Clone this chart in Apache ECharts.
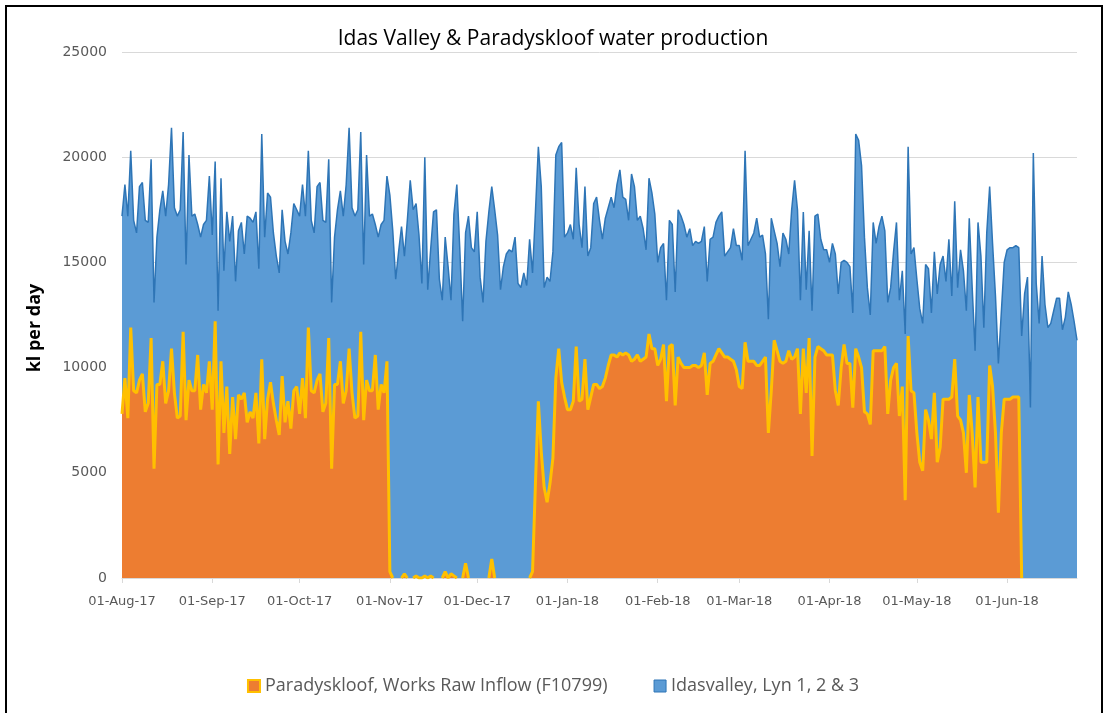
<!DOCTYPE html>
<html>
<head>
<meta charset="utf-8">
<title>Idas Valley & Paradyskloof water production</title>
<script src="https://cdn.jsdelivr.net/npm/echarts@6/dist/echarts.min.js"></script>
<style>
	html, body { margin: 0; padding: 0; background: #fff; }
	#chart { width: 1106px; height: 713px; }
</style>
</head>
<body>
<div id="chart"></div>
<script>
var chartTitle = 'Idas Valley & Paradyskloof water production';
var yAxisName = 'kl per day';
var seriesNames = ['Paradyskloof, Works Raw Inflow (F10799)', 'Idasvalley, Lyn 1, 2 & 3'];
var yTicks = [0, 5000, 10000, 15000, 20000, 25000];
var firstDay = [2017, 7, 1]; // 01-Aug-17, one value per day
var monthNames = ['Jan', 'Feb', 'Mar', 'Apr', 'May', 'Jun', 'Jul', 'Aug', 'Sep', 'Oct', 'Nov', 'Dec'];

// kl per day, daily, Aug 2017 - Jun 2018 (one line per month)
var paradyskloof = [
	7800, 9500, 7600, 11900, 8900, 8800, 9400, 9700, 7900, 8300, 11400, 5200, 9200, 9200, 10300, 8300, 8900, 10900, 8800, 7600, 7700, 11700, 7500, 9400, 8900, 8900, 10600, 8000, 9200, 8800, 10300,
	8000, 12200, 5400, 10300, 6900, 9100, 5900, 8600, 6600, 8700, 8500, 8800, 7400, 7900, 7600, 8800, 6400, 10400, 6600, 8500, 9300, 8300, 7500, 6800, 9600, 7400, 8400, 7100, 8900, 9100,
	7800, 9500, 7600, 11900, 8900, 8800, 9400, 9700, 7900, 8300, 11400, 5200, 9200, 9200, 10300, 8300, 8900, 10900, 8800, 7600, 7700, 11700, 7500, 9400, 8900, 8900, 10600, 8000, 9200, 8800, 10300,
	300, 0, 0, 0, 0, 200, 0, 0, 0, 100, 0, 0, 100, 0, 100, 0, 0, 0, 0, 300, 0, 200, 100, 0, 0, 0, 700, 0, 0, 0,
	0, 0, 0, 0, 0, 900, 0, 0, 0, 0, 0, 0, 0, 0, 0, 0, 0, 0, 0, 300, 4500, 8400, 6000, 4300, 3600, 4500, 5700, 9500, 10900, 9300, 8600,
	8000, 8000, 8400, 11000, 8400, 8500, 10400, 8000, 8600, 9200, 9200, 9000, 9100, 9500, 10100, 10600, 10600, 10500, 10700, 10600, 10700, 10600, 10300, 10400, 10600, 10300, 10400, 10500, 11600, 10900, 10900,
	10100, 10400, 11100, 8400, 11000, 11100, 8200, 10500, 10200, 10000, 10000, 10000, 10100, 10100, 10000, 10100, 10700, 8700, 10200, 10300, 10600, 10900, 10700, 10500, 10500, 10400, 10300, 9900,
	9100, 9000, 11200, 10300, 10300, 10300, 10100, 10100, 10300, 10500, 6900, 8900, 11300, 10800, 10300, 10200, 10300, 10800, 10400, 10500, 10900, 7800, 10900, 8800, 11400, 5800, 10500, 11000, 10900, 10800, 10600,
	10600, 10600, 8900, 8200, 10000, 11100, 10200, 10200, 8100, 10900, 10500, 10000, 7900, 7800, 7300, 10800, 10800, 10800, 10800, 11000, 7800, 9400, 10000, 10200, 7700, 9100, 3700, 11500, 8900, 8800,
	6900, 5500, 5100, 8000, 7500, 6600, 8800, 5500, 6200, 8500, 8500, 8500, 8600, 10400, 7700, 7500, 6900, 5000, 8700, 6900, 4300, 8600, 5500, 5500, 5500, 10100, 9100, 6900, 3100, 6900, 8500,
	8500, 8500, 8600, 8600, 8600, 0, 0, 0, 0, 0, 0, 0, 0, 0, 0, 0, 0, 0, 0, 0, 0, 0, 0, 0, 0
];

var idasvalley = [
	9400, 9200, 9600, 8400, 8100, 7600, 9200, 9100, 9100, 8600, 8500, 7900, 7000, 8300, 8100, 8900, 9800, 10500, 8800, 9600, 9800, 9500, 7400, 10700, 8300, 8400, 6200, 8200, 7600, 8200, 8800,
	8300, 7600, 7300, 8700, 7700, 8300, 10100, 8600, 7500, 7800, 8400, 6600, 9800, 9200, 9300, 8600, 8300, 10700, 9600, 9800, 8800, 8100, 7800, 7700, 7900, 8600, 7000, 9300, 8900, 8400,
	9400, 9200, 9600, 8400, 8100, 7600, 9200, 9100, 9100, 8600, 8500, 7900, 7000, 8300, 8100, 8900, 9800, 10500, 8800, 9600, 9800, 9500, 7400, 10700, 8300, 8400, 6200, 8200, 7600, 8200, 8800,
	17900, 16500, 14200, 15500, 16700, 15100, 17000, 18900, 17500, 17700, 16300, 14000, 19900, 13700, 15500, 17400, 17500, 14200, 13200, 15900, 14800, 13000, 17200, 18700, 15700, 12200, 15700, 17200, 15700, 15500,
	17400, 14300, 13100, 16000, 17400, 17700, 17500, 16300, 13700, 14800, 15400, 15600, 15500, 16200, 14000, 13800, 14500, 13900, 16100, 14200, 12900, 12100, 12600, 9500, 10700, 9600, 9800, 10600, 9600, 11400, 7600,
	8400, 8800, 7700, 8500, 8400, 7200, 8200, 7300, 7100, 8600, 8900, 8000, 7000, 7600, 7500, 7500, 7000, 8200, 8700, 7500, 7300, 6400, 8900, 8200, 6400, 6900, 6200, 5100, 7400, 7400, 6400,
	4900, 5300, 4800, 4800, 6000, 5700, 5400, 7000, 7000, 6800, 6200, 6600, 5700, 5900, 5900, 5900, 6000, 5400, 5900, 5900, 6300, 6300, 6700, 4800, 5000, 5300, 6300, 5900,
	6700, 6100, 9100, 5500, 5800, 6100, 7000, 6100, 6000, 4900, 5400, 8200, 5200, 5100, 4500, 6200, 5800, 4600, 7100, 8400, 6600, 5400, 6500, 4900, 5100, 6900, 6700, 6300, 5200, 4800, 5000,
	4400, 5300, 6500, 5300, 5000, 4000, 4800, 4600, 4500, 10200, 10300, 9600, 8300, 6000, 5200, 6100, 5100, 5900, 6400, 5500, 5300, 4400, 5500, 6700, 5500, 5500, 7900, 9000, 6500, 6900,
	7300, 7300, 7000, 6900, 7200, 6000, 6700, 8000, 8700, 6800, 5600, 7600, 4800, 7500, 6100, 8100, 7700, 7700, 8400, 6900, 6500, 8300, 9800, 6400, 10900, 8500, 6800, 6500, 7100, 5700, 6500,
	7100, 7200, 7100, 7200, 7100, 11500, 13500, 14300, 8100, 20200, 14000, 12100, 15300, 13000, 11900, 12100, 12700, 13300, 13300, 11800, 12400, 13600, 13000, 12200, 11300
];

// dd-Mon-yy labels, one per value
var dates = [];
for (var i = 0; i < paradyskloof.length; i++) {
	var d = new Date(Date.UTC(firstDay[0], firstDay[1], firstDay[2] + i));
	var dd = ('0' + d.getUTCDate()).slice(-2);
	var yy = String(d.getUTCFullYear()).slice(-2);
	dates.push(dd + '-' + monthNames[d.getUTCMonth()] + '-' + yy);
}

// yellow outline of the Paradyskloof area: no line along the axis where the works were off
var paradyskloofEdge = paradyskloof.map(function(v, i) {
	var prev = i > 0 ? paradyskloof[i - 1] : 0;
	var next = i < paradyskloof.length - 1 ? paradyskloof[i + 1] : 0;
	return (v === 0 && prev === 0 && next === 0) ? null : v;
});

function isMonthStart(index, value) {
	return value.slice(0, 3) === '01-';
}

var myChart = echarts.init(document.getElementById('chart'));

var option = {
	animation: false,
	backgroundColor: '#fff',
	title: {
		text: chartTitle,
		left: 'center',
		top: 24,
		textStyle: {
			fontFamily: 'Open Sans',
			fontSize: 21,
			fontWeight: 'normal',
			color: '#000'
		}
	},
	legend: {
		bottom: 13,
		left: 'center',
		itemGap: 46,
		itemWidth: 12,
		itemHeight: 12,
		icon: 'rect',
		textStyle: {
			fontFamily: 'Open Sans',
			fontSize: 18,
			color: '#595959'
		},
		data: [{
			name: seriesNames[0],
			itemStyle: { color: '#ED7D31', borderColor: '#FFC000', borderWidth: 2 }
		}, {
			name: seriesNames[1],
			itemStyle: { color: '#5B9BD5', borderColor: '#2E75B6', borderWidth: 1 }
		}]
	},
	grid: {
		left: 122,
		right: 29,
		top: 52,
		bottom: 135
	},
	xAxis: {
		type: 'category',
		data: dates,
		boundaryGap: false,
		axisLine: { lineStyle: { color: '#d9d9d9' } },
		axisTick: {
			interval: isMonthStart,
			length: 5,
			lineStyle: { color: '#d9d9d9' }
		},
		axisLabel: {
			interval: isMonthStart,
			margin: 17,
			fontFamily: 'DejaVu Sans',
			fontSize: 13,
			color: '#595959'
		},
		splitLine: { show: false }
	},
	yAxis: {
		type: 'value',
		min: yTicks[0],
		max: yTicks[yTicks.length - 1],
		interval: yTicks[1] - yTicks[0],
		axisLine: { show: false },
		axisTick: { show: false },
		axisLabel: {
			margin: 15,
			fontFamily: 'DejaVu Sans',
			fontSize: 14,
			color: '#595959',
			formatter: function(v) { return String(v); }
		},
		splitLine: { lineStyle: { color: '#d9d9d9', width: 1 } }
	},
	series: [{
		name: seriesNames[0],
		type: 'line',
		stack: 'total',
		data: paradyskloof,
		symbol: 'none',
		z: 3,
		lineStyle: { width: 0, opacity: 0 },
		itemStyle: { color: '#ED7D31', borderColor: '#FFC000' },
		areaStyle: { color: '#ED7D31', opacity: 1 }
	}, {
		name: seriesNames[1],
		type: 'line',
		stack: 'total',
		data: idasvalley,
		symbol: 'none',
		z: 2,
		lineStyle: { color: '#2E75B6', width: 1.5 },
		itemStyle: { color: '#5B9BD5' },
		areaStyle: { color: '#5B9BD5', opacity: 1 }
	}, {
		name: 'paradyskloof-edge',
		type: 'line',
		data: paradyskloofEdge,
		symbol: 'none',
		silent: true,
		z: 4,
		lineStyle: { color: '#FFC000', width: 3 }
	}],
	graphic: [{
		type: 'text',
		silent: true,
		x: 35,
		y: 328,
		rotation: Math.PI / 2,
		style: {
			text: yAxisName,
			fontFamily: 'Open Sans',
			fontSize: 18,
			fontWeight: 'bold',
			fill: '#000',
			align: 'center',
			verticalAlign: 'middle'
		}
	}, {
		type: 'rect',
		silent: true,
		shape: { x: 6, y: 6, width: 1096, height: 730 },
		style: { fill: 'none', stroke: '#000', lineWidth: 2 }
	}]
};

myChart.setOption(option);
</script>
</body>
</html>
